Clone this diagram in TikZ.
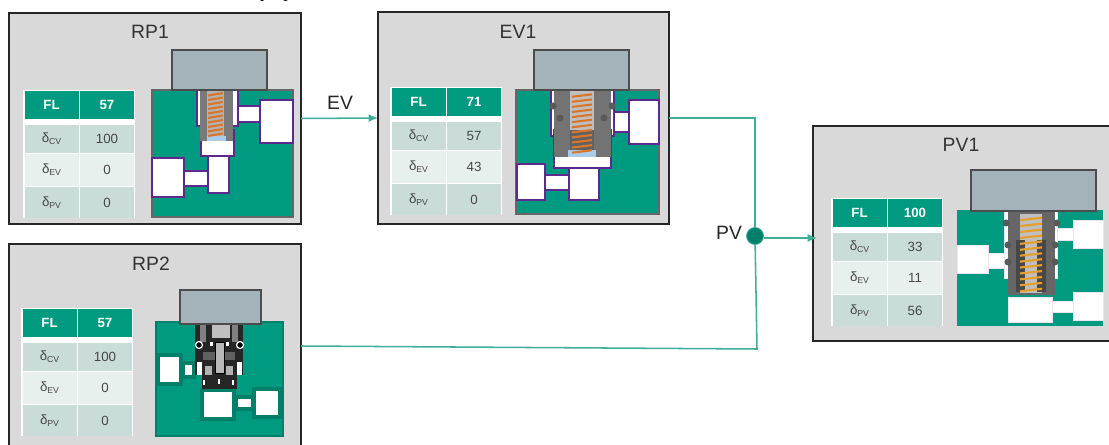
\documentclass[tikz,border=0pt]{standalone}
\usepackage{fontspec}
\setmainfont{Liberation Sans}
\newfontfamily\cuttextfont{Liberation Serif}
\usetikzlibrary{arrows.meta}
\definecolor{valvegreen}{HTML}{009A80}
\definecolor{darkgreen}{HTML}{007F69}
\definecolor{linkgreen}{HTML}{3FAE9B}
\definecolor{portpurple}{HTML}{5B2A8C}
\definecolor{panelgray}{HTML}{D9D9D9}
\definecolor{capgray}{HTML}{A3B3B9}
\definecolor{rowdark}{HTML}{C9DCD8}
\definecolor{rowlight}{HTML}{E8F0EE}
\definecolor{springorange}{HTML}{D9762A}
\definecolor{springyellow}{HTML}{E59F2C}
\definecolor{seatblue}{HTML}{A9CDE8}
\newcommand{\dltsub}[1]{δ\raisebox{-1.5pt}{\fontsize{6.5}{6.5}\selectfont #1}}
% table of one panel: name, left, top, then the four values
\newcommand{\flowtable}[7]{
  \fill[white] (#2-1,#3-1) rectangle (#2+111,#3+127);
  \node[headcell] (#1fl) at (#2+27.5,#3+14) {FL};
  \node[headcell] (#1val) at (#2+83,#3+14) {#4};
  \foreach \rowtag/\rowval/\rowtop/\rowhigh/\rowshade in {CV/#5/34/28/rowdark,EV/#6/63/32/rowlight,PV/#7/96/31/rowdark}{
    \node[rowcell,fill=\rowshade,minimum height=\rowhigh*0.75pt] (#1\rowtag) at (#2+27.5,#3+\rowtop+\rowhigh/2) {\dltsub{\rowtag}};
    \node[rowcell,fill=\rowshade,minimum height=\rowhigh*0.75pt] (#1\rowtag v) at (#2+83,#3+\rowtop+\rowhigh/2) {\rowval};
  }
}
\newcommand{\coilspring}[6]{
  \foreach \i in {1,...,#5}{
    \pgfmathsetmacro{\yy}{#3+(\i-0.5)*(#4-#3)/#5}
    \draw[#6,line width=1.6pt] (#1,\yy+1.2) -- (#2,\yy-1.2);
  }
}
\begin{document}
\begin{tikzpicture}[x=0.75pt,y=-0.75pt]
  \tikzstyle{panel}=[draw=black!85,fill=panelgray,line width=1.1pt,inner sep=0pt,outer sep=0pt]
  \tikzstyle{paneltitle}=[font=\fontsize{14.5}{14.5}\selectfont,text=black!80,inner sep=0pt]
  \tikzstyle{headcell}=[fill=valvegreen,text=white,font=\bfseries\fontsize{10}{10}\selectfont,minimum width=54*0.75pt,minimum height=28*0.75pt,inner sep=0pt]
  \tikzstyle{rowcell}=[text=black!72,font=\fontsize{10}{10}\selectfont,minimum width=54*0.75pt,inner sep=0pt]
  \tikzstyle{actuator}=[draw=black!70,fill=capgray,line width=0.9pt]
  \tikzstyle{block}=[fill=valvegreen,draw=black!60,line width=0.9pt]
  \tikzstyle{port}=[fill=white,draw=portpurple,line width=0.9pt]
  \tikzstyle{softport}=[fill=white,draw=portpurple!12,line width=0.7pt]
  \tikzstyle{haloport}=[fill=white,draw=darkgreen,line width=2.4pt]
  \tikzstyle{link}=[draw=linkgreen,line width=1.15pt]
  \tikzstyle{linklabel}=[font=\fontsize{14.5}{14.5}\selectfont,text=black!85,inner sep=0pt]
  \tikzstyle{linktip}=[-{Latex[length=7pt,width=6pt]}]
  \useasboundingbox (0,0) rectangle (1109,445);

  % the cut off line above the panels
  \node[font=\cuttextfont\fontsize{14}{14}\selectfont,anchor=base,inner sep=0pt] (cuty) at (265,-2) {y};
  \node[font=\cuttextfont\fontsize{14}{14}\selectfont,anchor=base,inner sep=0pt] (cutp) at (288,-2) {p};

  % Place the panels
  \foreach \place/\name/\wide/\high in {(155,118.5)/rp1/292/211,(523.5,118)/ev1/291/212,(155,346)/rp2/292/204,(966.5,233.5)/pv1/307/215}
    \node[panel,minimum width=\wide*0.75pt,minimum height=\high*0.75pt] (\name) at \place {};
  \node[paneltitle] (rp1title) at (150,32) {RP1};
  \node[paneltitle] (ev1title) at (518,32) {EV1};
  \node[paneltitle] (rp2title) at (151,264) {RP2};
  \node[paneltitle] (pv1title) at (961,145) {PV1};

  % Tables
  \flowtable{a}{24}{91}{57}{100}{0}{0}
  \flowtable{b}{391}{88}{71}{57}{43}{0}
  \flowtable{c}{22}{309}{57}{100}{0}{0}
  \flowtable{d}{832}{199}{100}{33}{11}{56}

  % Valve of RP1
  \draw[block] (152,90) rectangle (293,217);
  \foreach \xa/\ya/\xb/\yb in {238/106/260/122,260/100/293/143,197/90/238/126,201/130/234/156,184/171/208/186,152/158/184/197,208/156/229/193}
    \draw[port] (\xa,\ya) rectangle (\xb,\yb);
  \fill[black!52] (200,90) rectangle (233,141);
  \fill[black!30] (207,90) rectangle (224,137);
  \fill[seatblue] (207,136) rectangle (226,141);
  \coilspring{208}{223}{92}{137}{10}{springorange}
  \draw[actuator] (172,50) rectangle (267,90);

  % Valve of EV1
  \draw[block] (516,90) rectangle (659,214);
  \foreach \xa/\ya/\xb/\yb in {614/112/629/132,629/100/659/144,551/90/614/136,554/130/611/168,545/175/569/190,517/164/545/200,569/168/599/200}
    \draw[port] (\xa,\ya) rectangle (\xb,\yb);
  \fill[black!55] (554,90) rectangle (611,157);
  \fill[black!25] (570,90) rectangle (594,130);
  \fill[black!62] (570,130) rectangle (594,150);
  \fill[seatblue] (568,150) rectangle (596,157);
  \foreach \xa/\ya in {553/106,612/106,560/118,604/118}
    \fill[black!65] (\xa,\ya) circle (3.5);
  \coilspring{572}{592}{93}{154}{12}{springorange}
  \draw[actuator] (534,50) rectangle (629,90);

  % Valve of RP2
  \draw[fill=valvegreen,draw=darkgreen,line width=0.9pt] (156,322) rectangle (283,436);
  \foreach \xa/\ya/\xb/\yb in {158/355/181/384,183/363/194/377,202/390/234/419,236/397/253/409,254/389/280/417}
    \draw[haloport] (\xa,\ya) rectangle (\xb,\yb);
  \fill[black!85] (195,325) rectangle (243,375);
  \fill[black!85] (202,375) rectangle (237,389);
  \fill[black!62] (203,352) rectangle (235,360);
  \fill[black!50] (200,325) rectangle (206,342);
  \fill[black!50] (232,325) rectangle (238,342);
  \fill[black!25] (212,325) rectangle (230,338);
  \draw[fill=black!28,draw=black,line width=0.6pt] (215,342) rectangle (224,373);
  \foreach \xa/\ya/\xb/\yb in {197/362/202/375,237/362/242/375,210/342/213/346,226/342/229/346}
    \fill[white] (\xa,\ya) rectangle (\xb,\yb);
  \foreach \xa/\ya/\xb/\yb in {205/366/212/375,226/366/233/375}
    \fill[black!30] (\xa,\ya) rectangle (\xb,\yb);
  \foreach \xa/\ya in {199/345,240/345}
    \draw[fill=black,draw=white,line width=0.9pt] (\xa,\ya) circle (3.5);
  \foreach \xa/\ya in {204/380,219/379,233/380}
    \draw[white,line width=0.8pt] (\xa,\ya) -- ++(0,5);
  \draw[actuator] (180,290) rectangle (261,324);

  % Valve of PV1
  \fill[valvegreen] (957,210) rectangle (1103,326);
  \foreach \xa/\ya/\xb/\yb in {1057/228/1073/240,1073/220/1103/248,988/253/1004/268,957/245/988/273,1052/301/1073/312,1073/292/1103/320,1008/297/1052/322,1004/211/1057/278}
    \draw[softport] (\xa,\ya) rectangle (\xb,\yb);
  \fill[black!60] (1008,211) rectangle (1055,295);
  \fill[black!25] (1020,214) rectangle (1042,293);
  \fill[black!72] (1016,240) rectangle (1046,292);
  \fill[black!25] (1025,240) rectangle (1037,293);
  \foreach \xa/\ya in {1006/223,1057/223,1008/245,1055/245,1008/262,1055/262}
    \fill[black!65] (\xa,\ya) circle (3.5);
  \coilspring{1020}{1042}{216}{293}{13}{springyellow}
  \draw[actuator] (971,170) rectangle (1096,211);

  % Connect the panels
  \node[circle,fill=darkgreen,draw=linkgreen,line width=0.6pt,minimum size=17*0.75pt,inner sep=0pt] (pvdot) at (755,236) {};
  \node[linklabel] (evlabel) at (340,103) {EV};
  \node[linklabel] (pvlabel) at (729,233) {PV};
  \coordinate (lowbend) at (757,349);
  \coordinate (pvin) at (817,238);
  \coordinate (pvout) at (pvdot.east |- pvin);
  \draw[link,linktip] (rp1.east) -- (ev1.west);
  \draw[link] (ev1.east) -| (pvdot);
  \draw[link] (rp2.east) -- (lowbend) -- (pvdot);
  \draw[link,linktip] (pvout) -- (pvin);
\end{tikzpicture}
\end{document}
